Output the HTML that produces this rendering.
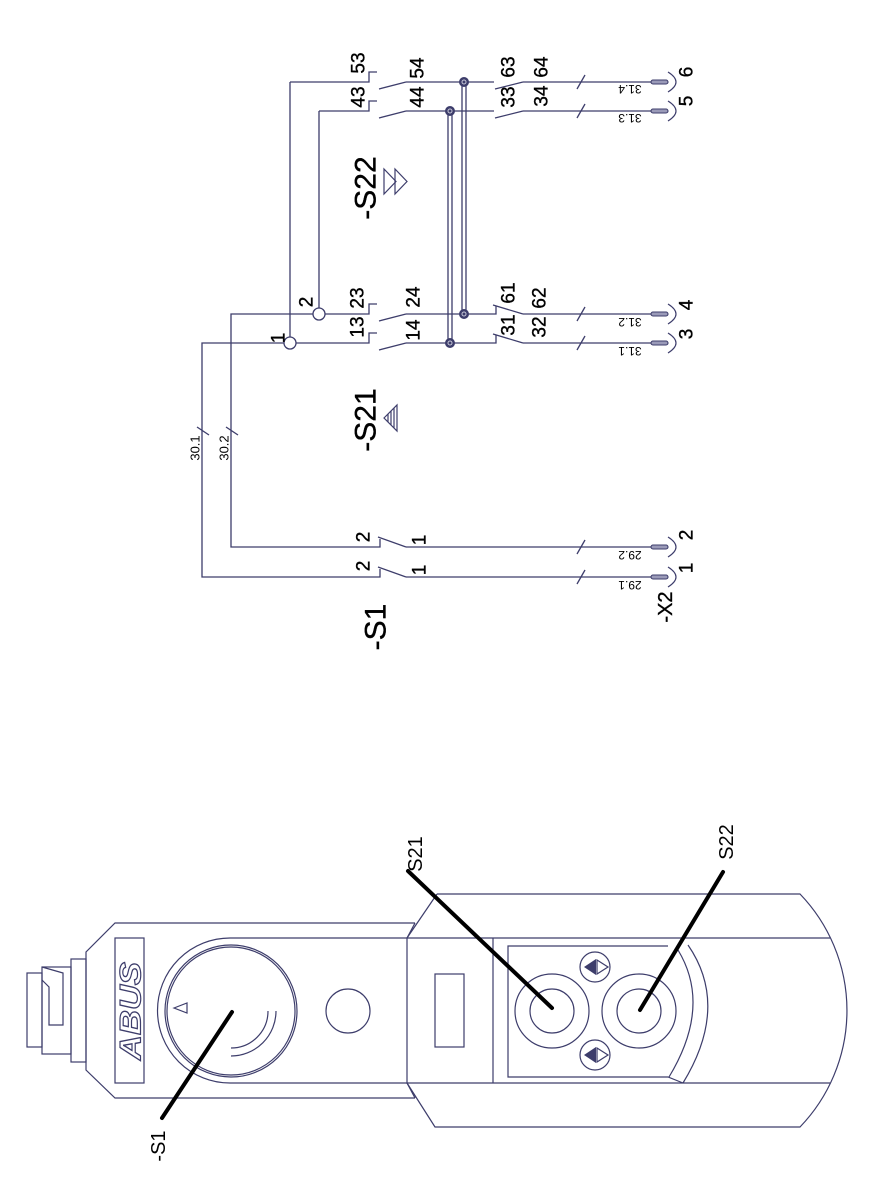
<!DOCTYPE html>
<html><head><meta charset="utf-8"><style>
html,body{margin:0;padding:0;background:#fff;width:874px;height:1182px;overflow:hidden}
svg{display:block}
text{font-family:"Liberation Sans",sans-serif;fill:#000}
.n text{stroke:#000;stroke-width:0.35}
</style></head><body>
<svg width="874" height="1182" viewBox="0 0 874 1182" xmlns="http://www.w3.org/2000/svg">
<g stroke="#3d3d6b" stroke-width="1.3" fill="none">
<polyline points="290,343 202,343 202,577 380,577 380,569"/>
<polyline points="319,314 231,314 231,547 380,547 380,539"/>
<line x1="197" y1="427" x2="209" y2="435"/>
<line x1="226" y1="427" x2="238" y2="435"/>
<line x1="378" y1="537" x2="406" y2="547"/><line x1="406" y1="547" x2="651" y2="547"/>
<line x1="378" y1="567" x2="406" y2="577"/><line x1="406" y1="577" x2="651" y2="577"/>
<line x1="577" y1="554" x2="585" y2="540"/><line x1="577" y1="584" x2="585" y2="570"/>
<line x1="290" y1="82" x2="290" y2="337"/>
<line x1="319" y1="111" x2="319" y2="308"/>
<circle cx="290" cy="343" r="6" fill="#fff"/>
<circle cx="319" cy="314" r="6" fill="#fff"/>
<polyline points="290,82 369,82 369,72 377,72"/>
<line x1="379" y1="89" x2="406" y2="82"/><line x1="406" y1="82" x2="494" y2="82"/>
<line x1="495" y1="89" x2="523" y2="82"/><line x1="523" y1="82" x2="651" y2="82"/>
<line x1="577" y1="89" x2="585" y2="75"/>
<polyline points="319,111 369,111 369,101 377,101"/>
<line x1="379" y1="118" x2="406" y2="111"/><line x1="406" y1="111" x2="494" y2="111"/>
<line x1="495" y1="118" x2="523" y2="111"/><line x1="523" y1="111" x2="651" y2="111"/>
<line x1="577" y1="118" x2="585" y2="104"/>
<polyline points="325,314 369,314 369,304 377,304"/>
<line x1="379" y1="321" x2="406" y2="314"/>
<polyline points="406,314 496,314 496,306"/>
<line x1="493" y1="305" x2="523" y2="314"/><line x1="523" y1="314" x2="651" y2="314"/>
<line x1="577" y1="321" x2="585" y2="307"/>
<polyline points="296,343 369,343 369,333 377,333"/>
<line x1="379" y1="350" x2="406" y2="343"/>
<polyline points="406,343 496,343 496,335"/>
<line x1="493" y1="334" x2="523" y2="343"/><line x1="523" y1="343" x2="651" y2="343"/>
<line x1="577" y1="350" x2="585" y2="336"/>
<line x1="462" y1="82" x2="462" y2="314"/><line x1="466" y1="82" x2="466" y2="314"/>
<line x1="448" y1="111" x2="448" y2="343"/><line x1="452" y1="111" x2="452" y2="343"/>
</g>
<g fill="#3d3d6b" stroke="#3d3d6b">
<circle cx="464" cy="82" r="4.5"/><circle cx="464" cy="314" r="4.5"/>
<circle cx="450" cy="111" r="4.5"/><circle cx="450" cy="343" r="4.5"/>
</g>
<g stroke="#c8c8d8" stroke-width="1" fill="none">
<circle cx="464" cy="82" r="2"/><circle cx="464" cy="314" r="2"/>
<circle cx="450" cy="111" r="2"/><circle cx="450" cy="343" r="2"/>
</g>
<g stroke="#3d3d6b" stroke-width="1.1" fill="#9a9ab8">
<rect x="651" y="80" width="17" height="4" rx="2"/>
<rect x="651" y="109" width="17" height="4" rx="2"/>
<rect x="651" y="312" width="17" height="4" rx="2"/>
<rect x="651" y="341" width="17" height="4" rx="2"/>
<rect x="651" y="545" width="17" height="4" rx="2"/>
<rect x="651" y="575" width="17" height="4" rx="2"/>
</g>
<g stroke="#3d3d6b" stroke-width="1.2" fill="none">
<path d="M668,72 Q684,82 668,92"/>
<path d="M668,101 Q684,111 668,121"/>
<path d="M668,304 Q684,314 668,324"/>
<path d="M668,333 Q684,343 668,353"/>
<path d="M668,537 Q684,547 668,557"/>
<path d="M668,567 Q684,577 668,587"/>
<path d="M384,169 L384,194 L396,181.5 Z"/>
<path d="M395,169 L395,194 L407,181.5 Z"/>
<path d="M384,418 L397,405 L397,431 Z"/>
<line x1="388" y1="414" x2="388" y2="422"/>
<line x1="391" y1="411" x2="391" y2="425"/>
<line x1="394" y1="408" x2="394" y2="428"/>
</g>
<g class="n" font-size="19">
<text transform="translate(359,63) rotate(-90)" text-anchor="middle" dominant-baseline="central">53</text>
<text transform="translate(418,68) rotate(-90)" text-anchor="middle" dominant-baseline="central">54</text>
<text transform="translate(359,97) rotate(-90)" text-anchor="middle" dominant-baseline="central">43</text>
<text transform="translate(418,97) rotate(-90)" text-anchor="middle" dominant-baseline="central">44</text>
<text transform="translate(509,67) rotate(-90)" text-anchor="middle" dominant-baseline="central">63</text>
<text transform="translate(542,67) rotate(-90)" text-anchor="middle" dominant-baseline="central">64</text>
<text transform="translate(509,97) rotate(-90)" text-anchor="middle" dominant-baseline="central">33</text>
<text transform="translate(542,96) rotate(-90)" text-anchor="middle" dominant-baseline="central">34</text>
<text transform="translate(307,302) rotate(-90)" text-anchor="middle" dominant-baseline="central">2</text>
<text transform="translate(358,298) rotate(-90)" text-anchor="middle" dominant-baseline="central">23</text>
<text transform="translate(414,297) rotate(-90)" text-anchor="middle" dominant-baseline="central">24</text>
<text transform="translate(509,293) rotate(-90)" text-anchor="middle" dominant-baseline="central">61</text>
<text transform="translate(540,298) rotate(-90)" text-anchor="middle" dominant-baseline="central">62</text>
<text transform="translate(279,338) rotate(-90)" text-anchor="middle" dominant-baseline="central">1</text>
<text transform="translate(358,327) rotate(-90)" text-anchor="middle" dominant-baseline="central">13</text>
<text transform="translate(414,330) rotate(-90)" text-anchor="middle" dominant-baseline="central">14</text>
<text transform="translate(509,325) rotate(-90)" text-anchor="middle" dominant-baseline="central">31</text>
<text transform="translate(540,327) rotate(-90)" text-anchor="middle" dominant-baseline="central">32</text>
<text transform="translate(687,72) rotate(-90)" text-anchor="middle" dominant-baseline="central">6</text>
<text transform="translate(687,101) rotate(-90)" text-anchor="middle" dominant-baseline="central">5</text>
<text transform="translate(687,305) rotate(-90)" text-anchor="middle" dominant-baseline="central">4</text>
<text transform="translate(687,334) rotate(-90)" text-anchor="middle" dominant-baseline="central">3</text>
<text transform="translate(364,537) rotate(-90)" text-anchor="middle" dominant-baseline="central">2</text>
<text transform="translate(420,540) rotate(-90)" text-anchor="middle" dominant-baseline="central">1</text>
<text transform="translate(364,566) rotate(-90)" text-anchor="middle" dominant-baseline="central">2</text>
<text transform="translate(420,570) rotate(-90)" text-anchor="middle" dominant-baseline="central">1</text>
<text transform="translate(687,535) rotate(-90)" text-anchor="middle" dominant-baseline="central">2</text>
<text transform="translate(687,568) rotate(-90)" text-anchor="middle" dominant-baseline="central">1</text>
<text transform="translate(666,607) rotate(-90)" text-anchor="middle" dominant-baseline="central" font-size="20">-X2</text>
</g>
<g font-size="12">
<text transform="translate(630,89) rotate(180)" text-anchor="middle" dominant-baseline="central">31.4</text>
<text transform="translate(630,118) rotate(180)" text-anchor="middle" dominant-baseline="central">31.3</text>
<text transform="translate(630,322) rotate(180)" text-anchor="middle" dominant-baseline="central">31.2</text>
<text transform="translate(630,351) rotate(180)" text-anchor="middle" dominant-baseline="central">31.1</text>
<text transform="translate(630,555) rotate(180)" text-anchor="middle" dominant-baseline="central">29.2</text>
<text transform="translate(630,585) rotate(180)" text-anchor="middle" dominant-baseline="central">29.1</text>
</g>
<g font-size="13">
<text transform="translate(195,448) rotate(-90)" text-anchor="middle" dominant-baseline="central">30.1</text>
<text transform="translate(224,448) rotate(-90)" text-anchor="middle" dominant-baseline="central">30.2</text>
</g>
<g class="n" font-size="30">
<text transform="translate(366,188) rotate(-90)" text-anchor="middle" dominant-baseline="central">-S22</text>
<text transform="translate(366,420) rotate(-90)" text-anchor="middle" dominant-baseline="central">-S21</text>
<text transform="translate(376,627) rotate(-90)" text-anchor="middle" dominant-baseline="central">-S1</text>
</g>

<g stroke="#3d3d6b" stroke-width="1.2" fill="none">
<rect x="27" y="973" width="15" height="74"/>
<rect x="42" y="967" width="29" height="87"/>
<rect x="71" y="959" width="15" height="103"/>
<polyline points="42,967 63,973 63,1025 49,1025 49,987 42,980"/>
<polyline points="415,923 115,923 86,952 86,1070 115,1098 415,1098"/>
<line x1="415" y1="923" x2="407" y2="938"/>
<line x1="415" y1="1098" x2="407" y2="1083"/>
<rect x="115" y="938" width="29" height="145"/>
<path d="M830,938 H230 A72.5,72.5 0 0 0 230,1083 H830"/>
<circle cx="231" cy="1011" r="66"/>
<circle cx="231" cy="1011" r="64"/>
<path d="M174,1008 L187,1003 L187,1013 Z"/>
<path d="M268,1011 A37,37 0 0 1 231,1048"/>
<path d="M276,1011 A45,45 0 0 1 231,1056"/>
<circle cx="348" cy="1011" r="22"/>
<line x1="407" y1="938" x2="407" y2="1083"/>
<path d="M437,894 H800 A168,168 0 0 1 800,1127 H435 L407,1083"/>
<line x1="437" y1="894" x2="407" y2="938"/>
<line x1="493" y1="938" x2="493" y2="1083"/>
<rect x="435" y="974" width="29" height="73"/>
<polyline points="668,946 508,946 508,1077 668,1077 683,1083"/>
<path d="M688,945 Q730,1006 683,1083"/>
<path d="M678,950 Q712,1006 669,1077"/>
<circle cx="552" cy="1011" r="37"/><circle cx="552" cy="1011" r="22"/>
<circle cx="639" cy="1011" r="37"/><circle cx="639" cy="1011" r="22"/>
<circle cx="595" cy="967" r="15"/><circle cx="595" cy="1055" r="15"/>
<path d="M597,960 L608,967 L597,974 Z"/>
<path d="M597,1048 L608,1055 L597,1062 Z"/>
</g>
<g fill="#3d3d6b">
<path d="M584,967 L596,959 L596,975 Z"/>
<path d="M584,1055 L596,1047 L596,1063 Z"/>
</g>
<text transform="translate(131,1011) rotate(-90)" text-anchor="middle" dominant-baseline="central" font-size="30" font-weight="bold" font-style="italic" textLength="98" lengthAdjust="spacingAndGlyphs" style="fill:#fff;stroke:#3d3d6b;stroke-width:1.2">ABUS</text>
<g stroke="#000" stroke-width="4" stroke-linecap="round">
<line x1="162" y1="1118" x2="232" y2="1012"/>
<line x1="408" y1="871" x2="552" y2="1008"/>
<line x1="723" y1="872" x2="640" y2="1010"/>
</g>
<g font-size="20">
<text transform="translate(416,854) rotate(-90)" text-anchor="middle" dominant-baseline="central">S21</text>
<text transform="translate(727,842) rotate(-90)" text-anchor="middle" dominant-baseline="central">S22</text>
<text transform="translate(159,1146) rotate(-90)" text-anchor="middle" dominant-baseline="central">-S1</text>
</g>
</svg>
</body></html>
